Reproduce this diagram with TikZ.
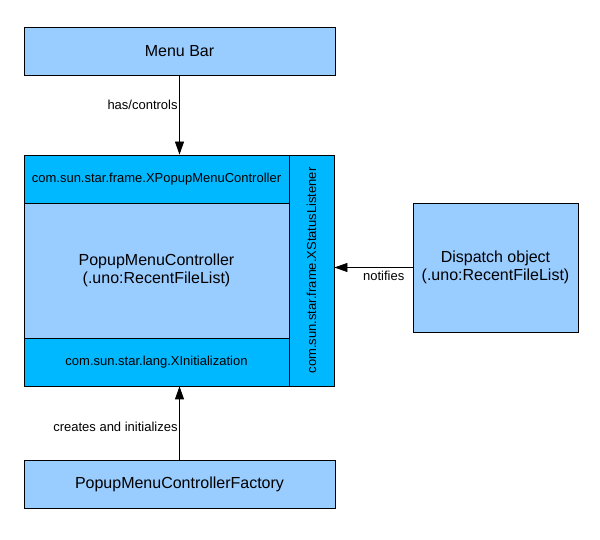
\documentclass[tikz,border=0pt]{standalone}
\usepackage{fontspec}
\setmainfont{Liberation Sans}
\usetikzlibrary{arrows.meta,calc}
\definecolor{boxL}{RGB}{153,204,255}
\definecolor{boxI}{RGB}{0,184,255}

\begin{document}
\begin{tikzpicture}[x=1pt,y=1pt,>={Triangle[length=13pt,width=9pt]},
  blk/.style={draw=black,line width=0.8pt,fill=boxL,inner sep=0pt,font=\fontsize{16}{18.5}\selectfont,align=center},
  ifc/.style={draw=black,line width=0.8pt,fill=boxI,inner sep=0pt,font=\fontsize{13}{15}\selectfont,align=center},
  lbl/.style={font=\fontsize{13}{15}\selectfont,inner sep=1.5pt},
  con/.style={->,line width=0.8pt}]
\useasboundingbox (0,0) rectangle (600,540);
% ---- top and bottom blocks
\node[blk,minimum width=311,minimum height=48] (menubar) at (179.5,489) {Menu Bar};
\node[blk,minimum width=311,minimum height=48] (factory) at (179.5,56) {PopupMenuControllerFactory};
% ---- controller with its interfaces
\node[blk,minimum width=265,minimum height=135] (popup) at (156.5,269.5) {PopupMenuController\\(.uno:RecentFileList)};
\node[ifc,minimum width=265,minimum height=48] (xpmc) at (156.5,361) {com.sun.star.frame.XPopupMenuController};
\node[ifc,minimum width=265,minimum height=48] (xinit) at (156.5,178) {com.sun.star.lang.XInitialization};
\node[ifc,minimum width=45,minimum height=231] (strip) at (311.5,269.5) {};
\node[ifc,draw=none,fill=none,rotate=90] (xsl) at (strip.center) {com.sun.star.frame.XStatusListener};
% ---- dispatch object
\node[blk,minimum width=165,minimum height=129] (dispatch) at (495.5,272.5) {Dispatch object\\(.uno:RecentFileList)};
% ---- connectors
\draw[con] (menubar.south) -- (menubar.south |- xpmc.north) node[lbl,pos=0.37,left]{has/controls};
\draw[con] (factory.north) -- (factory.north |- xinit.south) node[lbl,pos=0.45,left]{creates and initializes};
\draw[con] (dispatch.west) -- (dispatch.west -| strip.east) node[lbl,pos=0.37,below=2pt]{notifies};
\end{tikzpicture}
\end{document}
